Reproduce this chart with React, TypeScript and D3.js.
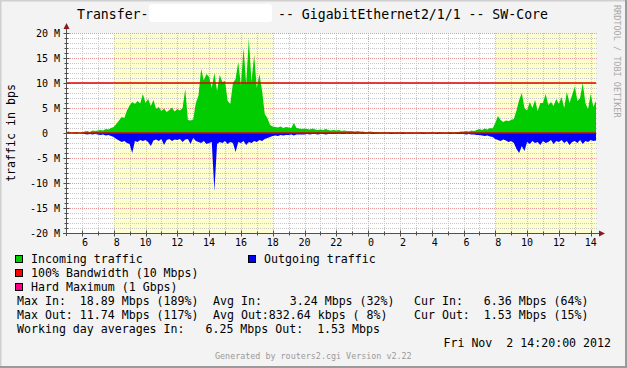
import React from 'react';
import * as d3 from 'd3';

const W = 627;
const H = 368;
const START_HOUR = 5; // 05:00 day 1
const END_HOUR = 38 + 20 / 60; // 14:20 day 2
const STEP = 1 / 6; // 10 minute samples

// Incoming traffic, Mbps, 10-min samples from 05:00
const inMbps = [
  0.2, 0.3, 0.1, 0.1, 0.2, 0.1, // 05
  0.1, 0.3, 0.4, 0.2, 0.5, 0.4, // 06
  0.5, 0.6, 0.5, 0.8, 0.7, 1.0, // 07
  1.2, 1.8, 2.5, 3.2, 3.0, 4.5, // 08
  5.5, 6.2, 5.8, 6.4, 5.9, 7.8, // 09
  6.0, 6.8, 5.4, 6.6, 4.8, 5.2, // 10
  4.4, 4.9, 4.2, 4.6, 5.1, 4.3, // 11
  4.8, 4.5, 5.0, 8.8, 2.6, 2.5, // 12
  2.7, 6.0, 7.5, 12.8, 10.5, 11.8, // 13
  11.2, 9.0, 12.0, 8.4, 11.6, 10.2, // 14
  10.4, 6.4, 5.8, 10.0, 10.8, 14.2, // 15
  9.5, 17.0, 9.8, 18.9, 10.2, 15.6, // 16
  9.0, 11.8, 8.4, 3.8, 3.0, 1.6, // 17
  1.3, 1.2, 1.1, 1.3, 1.0, 1.2, // 18
  1.1, 1.0, 2.0, 1.0, 0.9, 0.8, // 19
  0.9, 0.8, 0.7, 0.9, 0.7, 0.6, // 20
  0.7, 0.6, 0.8, 0.6, 0.5, 0.6, // 21
  0.5, 0.6, 0.4, 0.5, 0.4, 0.4, // 22
  0.4, 0.3, 0.4, 0.3, 0.3, 0.2, // 23
  0.2, 0.3, 0.2, 0.2, 0.2, 0.1, // 00
  0.2, 0.1, 0.2, 0.1, 0.1, 0.2, // 01
  0.1, 0.2, 0.1, 0.1, 0.2, 0.1, // 02
  0.1, 0.1, 0.2, 0.1, 0.1, 0.1, // 03
  0.2, 0.1, 0.1, 0.2, 0.1, 0.1, // 04
  0.1, 0.2, 0.1, 0.2, 0.2, 0.3, // 05
  0.3, 0.4, 0.3, 0.5, 0.4, 0.6, // 06
  0.8, 0.6, 0.9, 0.7, 1.0, 0.9, // 07
  2.0, 3.4, 2.6, 2.2, 2.5, 2.4, // 08
  2.6, 2.8, 4.5, 6.6, 8.0, 5.0, // 09
  4.5, 6.2, 5.0, 6.6, 4.4, 6.0, // 10
  6.0, 7.8, 5.6, 6.2, 5.4, 6.8, // 11
  5.8, 7.2, 5.0, 8.2, 6.0, 7.6, // 12
  9.3, 6.4, 7.0, 10.0, 6.0, 4.8, // 13
  7.8, 5.2, 6.4, // 14
];

// Outgoing traffic, Mbps (drawn below zero)
const outMbps = [
  0.1, 0.1, 0.0, 0.1, 0.1, 0.0, // 05
  0.1, 0.2, 0.3, 0.2, 0.3, 0.2, // 06
  0.3, 0.4, 0.3, 0.5, 0.4, 0.6, // 07
  0.8, 1.2, 1.5, 1.8, 1.6, 2.0, // 08
  2.2, 4.0, 1.6, 1.8, 1.4, 1.6, // 09
  1.4, 1.8, 2.6, 1.5, 1.3, 1.6, // 10
  1.2, 2.4, 1.4, 1.2, 1.6, 1.3, // 11
  1.4, 1.2, 1.8, 1.3, 1.2, 2.2, // 12
  1.0, 1.6, 1.8, 2.0, 1.6, 2.2, // 13
  2.0, 1.8, 11.6, 2.2, 1.8, 2.0, // 14
  1.6, 2.2, 1.8, 2.0, 3.8, 1.8, // 15
  2.0, 1.6, 2.4, 1.8, 2.0, 1.6, // 16
  1.8, 1.4, 1.6, 1.2, 1.0, 0.8, // 17
  0.6, 0.5, 0.6, 0.4, 0.5, 0.4, // 18
  0.4, 0.3, 0.5, 0.3, 0.3, 0.3, // 19
  0.3, 0.2, 0.3, 0.2, 0.2, 0.3, // 20
  0.2, 0.2, 0.3, 0.2, 0.2, 0.2, // 21
  0.2, 0.1, 0.2, 0.2, 0.1, 0.2, // 22
  0.1, 0.2, 0.1, 0.1, 0.2, 0.1, // 23
  0.1, 0.1, 0.2, 0.1, 0.1, 0.1, // 00
  0.1, 0.1, 0.1, 0.2, 0.1, 0.1, // 01
  0.1, 0.2, 0.1, 0.1, 0.1, 0.1, // 02
  0.1, 0.1, 0.1, 0.2, 0.1, 0.1, // 03
  0.1, 0.1, 0.2, 0.1, 0.1, 0.1, // 04
  0.1, 0.2, 0.1, 0.1, 0.2, 0.2, // 05
  0.2, 0.3, 0.2, 0.3, 0.3, 0.4, // 06
  0.4, 0.5, 0.6, 0.5, 0.7, 0.8, // 07
  1.2, 1.4, 1.6, 1.3, 1.5, 1.8, // 08
  1.6, 2.0, 3.2, 4.0, 2.6, 3.6, // 09
  1.8, 2.2, 1.6, 2.0, 1.8, 2.4, // 10
  1.6, 2.0, 1.8, 1.4, 2.2, 1.6, // 11
  1.8, 1.4, 2.0, 1.6, 2.4, 1.8, // 12
  1.6, 2.0, 1.4, 2.2, 1.6, 1.8, // 13
  1.4, 1.6, 1.5, // 14
];

const workBands = [
  [8, 18],
  [32, 42],
];
const xLabelHours = [6, 8, 10, 12, 14, 16, 18, 20, 22, 24, 26, 28, 30, 32, 34, 36, 38];
const yTickValues = [20, 15, 10, 5, 0, -5, -10, -15, -20];
const bandwidthLimit = 10; // Mbps

const legendItems = [
  { label: 'Incoming traffic', color: '#00cc00', col: 0, row: 0 },
  { label: 'Outgoing traffic', color: '#0000ff', col: 1, row: 0 },
  { label: '100% Bandwidth (10 Mbps)', color: '#ff0000', col: 0, row: 1 },
  { label: 'Hard Maximum (1 Gbps)', color: '#ff0088', col: 0, row: 2 },
];

const statsLine1 = ['Max In:  18.89 Mbps (189%)', 'Avg In:    3.24 Mbps (32%)', 'Cur In:   6.36 Mbps (64%)'];
const statsLine2 = ['Max Out: 11.74 Mbps (117%)', 'Avg Out:832.64 kbps ( 8%)', 'Cur Out:  1.53 Mbps (15%)'];
const statsLine3 = 'Working day averages In:   6.25 Mbps Out:  1.53 Mbps';
const dateText = 'Fri Nov  2 14:20:00 2012';
const footerText = 'Generated by routers2.cgi Version v2.22';
const titleLeft = 'Transfer-';
const titleRight = '-- GigabitEthernet2/1/1 -- SW-Core';

const MONO = '"DejaVu Sans Mono", "Liberation Mono", monospace';

export default function App() {
  const x = d3.scaleLinear().domain([START_HOUR, END_HOUR]).range([66, 596]);
  const y = d3.scaleLinear().domain([-20, 20]).range([233, 33]);
  const hours = inMbps.map((_, i) => START_HOUR + i * STEP);

  const areaIn = d3
    .area<number>()
    .x((_, i) => x(hours[i]))
    .y0(y(0))
    .y1((d) => y(d))
    .curve(d3.curveLinear);
  const areaOut = d3
    .area<number>()
    .x((_, i) => x(hours[i]))
    .y0(y(0))
    .y1((d) => y(-d))
    .curve(d3.curveLinear);

  const px = (v: number) => Math.round(v) + 0.5;
  const [x0, x1] = x.range();
  const [yb, yt] = y.range();

  const minorHours = d3.range(6, 39);
  const minorY = d3.range(-20, 21, 1);

  const colSec = [17, 213, 414];

  return (
    <svg
      width={W}
      height={H}
      style={{ position: 'absolute', left: 0, top: 0, display: 'block' }}
      fontFamily={MONO}
    >
      {/* canvas background and frame */}
      <rect x={0} y={0} width={W} height={H} fill="#f3f3f3" />
      <path d={`M0.5,${H} V0.5 H${W}`} stroke="#cfcfcf" strokeWidth={2} fill="none" />
      <path d={`M0,${H - 1} H${W - 1} V0`} stroke="#9a9a9a" strokeWidth={2} fill="none" />

      {/* title */}
      <text x={77} y={19} fontSize={13.2} fill="#000">
        {titleLeft}
      </text>
      <rect x={149} y={4} width={123} height={18} rx={3} fill="#ffffff" />
      <text x={278} y={19} fontSize={13.2} fill="#000">
        {titleRight}
      </text>

      {/* plot background */}
      <rect x={x0} y={yt} width={x1 - x0} height={yb - yt} fill="#ffffff" />
      {workBands.map(([a, b], i) => {
        const xa = x(Math.max(a, START_HOUR));
        const xb = x(Math.min(b, END_HOUR));
        return <rect key={i} x={xa} y={yt} width={xb - xa} height={yb - yt} fill="#ffffcc" />;
      })}

      {/* minor grid */}
      {minorHours.map((h) => (
        <line
          key={'vg' + h}
          x1={px(x(h))}
          x2={px(x(h))}
          y1={yt}
          y2={yb}
          stroke={h % 24 === 0 ? '#e89a9a' : '#c8c8c8'}
          strokeDasharray="1,1"
        />
      ))}
      {minorY.map((v) => (
        <line
          key={'hg' + v}
          x1={x0}
          x2={x1 + 2}
          y1={px(y(v))}
          y2={px(y(v))}
          stroke={v % 5 === 0 ? '#e89a9a' : '#c8c8c8'}
          strokeDasharray="1,1"
        />
      ))}

      {/* areas */}
      <path d={areaIn(inMbps) || ''} fill="#00cc00" />
      <path d={areaOut(outMbps) || ''} fill="#0000ff" />

      {/* 100% bandwidth rule and zero line */}
      <line x1={x0} x2={x1} y1={y(bandwidthLimit)} y2={y(bandwidthLimit)} stroke="#e00000" strokeWidth={1.6} />
      <line x1={x0} x2={x1} y1={y(0)} y2={y(0)} stroke="#e00000" strokeWidth={1.6} />

      {/* axes */}
      <line x1={px(x0)} x2={px(x0)} y1={yb + 3} y2={yt - 6} stroke="#505050" />
      <line x1={x0 - 3} x2={x1 + 5} y1={px(yb)} y2={px(yb)} stroke="#505050" />
      <path d={`M${px(x0) - 3},${yt - 4} L${px(x0) + 3},${yt - 4} L${px(x0)},${yt - 10} Z`} fill="#8b1a1a" />
      <path d={`M${x1 + 3},${px(yb) - 3} L${x1 + 3},${px(yb) + 3} L${x1 + 9},${px(yb)} Z`} fill="#8b1a1a" />
      {minorY.map((v) => (
        <line
          key={'yt' + v}
          x1={px(x0) - (v % 5 === 0 ? 3 : 2)}
          x2={px(x0) + (v % 5 === 0 ? 3 : 2)}
          y1={px(y(v))}
          y2={px(y(v))}
          stroke="#505050"
        />
      ))}
      {minorHours.map((h) => (
        <line
          key={'xt' + h}
          x1={px(x(h))}
          x2={px(x(h))}
          y1={px(yb) - (h % 2 === 0 ? 3 : 2)}
          y2={px(yb) + (h % 2 === 0 ? 3 : 2)}
          stroke="#505050"
        />
      ))}

      {/* y labels */}
      {yTickValues.map((v) => (
        <text
          key={'yl' + v}
          x={v === 0 ? 48 : 60}
          y={y(v) + 3.6}
          fontSize={10}
          textAnchor="end"
          fill="#000"
        >
          {v === 0 ? '0' : `${v} M`}
        </text>
      ))}
      {/* x labels */}
      {xLabelHours.map((h) => {
        const lab = String(h % 24).padStart(2, ' ');
        return (
          <text
            key={'xl' + h}
            x={x(h)}
            y={246}
            fontSize={10}
            textAnchor="middle"
            fill="#000"
            style={{ whiteSpace: 'pre' }}
          >
            {lab}
          </text>
        );
      })}

      {/* y axis title */}
      <text
        transform="translate(15,133) rotate(-90)"
        fontSize={11.6}
        textAnchor="middle"
        fill="#000"
      >
        traffic in bps
      </text>

      {/* rrdtool credit */}
      <text
        transform="translate(614,5) rotate(90)"
        fontSize={8.5}
        fill="#a8a8a8"
        style={{ whiteSpace: 'pre' }}
      >
        RRDTOOL / TOBI OETIKER
      </text>

      {/* legend */}
      {legendItems.map((it) => {
        const lx = it.col === 0 ? 15 : 248;
        const ly = 255 + it.row * 14;
        return (
          <g key={it.label}>
            <rect x={lx + 0.5} y={ly + 0.5} width={7} height={7} fill={it.color} stroke="#000" />
            <text x={lx + 16} y={ly + 8} fontSize={11.6} fill="#000" style={{ whiteSpace: 'pre' }}>
              {it.label}
            </text>
          </g>
        );
      })}

      {/* stats */}
      {statsLine1.map((s, i) => (
        <text key={'s1' + i} x={colSec[i]} y={305} fontSize={11.6} fill="#000" style={{ whiteSpace: 'pre' }}>
          {s}
        </text>
      ))}
      {statsLine2.map((s, i) => (
        <text key={'s2' + i} x={colSec[i]} y={319} fontSize={11.6} fill="#000" style={{ whiteSpace: 'pre' }}>
          {s}
        </text>
      ))}
      <text x={17} y={333} fontSize={11.6} fill="#000" style={{ whiteSpace: 'pre' }}>
        {statsLine3}
      </text>
      <text x={611} y={347} fontSize={11.6} fill="#000" textAnchor="end" style={{ whiteSpace: 'pre' }}>
        {dateText}
      </text>
      <text x={215} y={359} fontSize={8.4} fill="#9a9a9a" style={{ whiteSpace: 'pre' }}>
        {footerText}
      </text>
    </svg>
  );
}
